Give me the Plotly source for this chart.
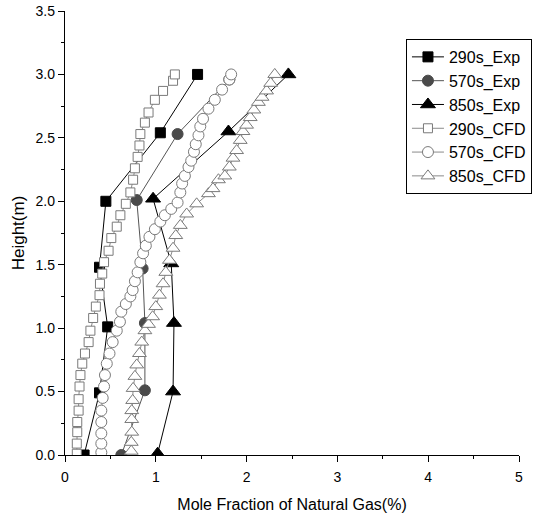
import plotly.graph_objects as go

# ---- Experimental data ----
h_exp_290 = [0.0, 0.49, 1.01, 1.48, 2.0, 2.54, 3.0]
x_exp_290 = [0.21, 0.38, 0.47, 0.38, 0.45, 1.05, 1.46]

h_exp_570 = [0.0, 0.51, 1.04, 1.47, 2.01, 2.53, 2.96]
x_exp_570 = [0.62, 0.88, 0.88, 0.855, 0.79, 1.24, 1.81]

h_exp_850 = [0.01, 0.50, 1.04, 1.51, 2.02, 2.55, 3.0]
x_exp_850 = [1.02, 1.19, 1.20, 1.17, 0.97, 1.80, 2.46]

# ---- CFD data ----
h_cfd_290 = [0.01, 0.09, 0.18, 0.26, 0.35, 0.44, 0.54, 0.63, 0.72, 0.80, 0.89, 0.98,
             1.08, 1.17, 1.26, 1.35, 1.43, 1.52, 1.61, 1.71, 1.80, 1.89, 1.98, 2.07,
             2.17, 2.26, 2.35, 2.44, 2.53, 2.62, 2.70, 2.80, 2.87, 2.95, 3.0]
x_cfd_290 = [0.13, 0.13, 0.135, 0.135, 0.15, 0.15, 0.16, 0.17, 0.19, 0.22, 0.26, 0.28,
             0.31, 0.34, 0.38, 0.385, 0.41, 0.43, 0.48, 0.51, 0.57, 0.61, 0.67, 0.72,
             0.75, 0.77, 0.80, 0.82, 0.83, 0.88, 0.92, 0.99, 1.08, 1.19, 1.21]

h_cfd_570 = [0.02, 0.09, 0.17, 0.26, 0.35, 0.45, 0.54, 0.63, 0.72, 0.80, 0.89, 0.98,
             1.05, 1.13, 1.19, 1.25, 1.30, 1.37, 1.44, 1.52, 1.59, 1.65, 1.72, 1.78,
             1.84, 1.89, 1.94, 1.99, 2.07, 2.14, 2.20, 2.27, 2.32, 2.39, 2.45, 2.52,
             2.59, 2.65, 2.73, 2.80, 2.88, 2.96, 3.0]
x_cfd_570 = [0.40, 0.40, 0.40, 0.40, 0.40, 0.415, 0.43, 0.44, 0.46, 0.49, 0.525, 0.57,
             0.605, 0.62, 0.67, 0.72, 0.745, 0.77, 0.80, 0.83, 0.86, 0.89, 0.93, 0.99,
             1.05, 1.10, 1.17, 1.24, 1.27, 1.29, 1.32, 1.36, 1.39, 1.42, 1.44, 1.47,
             1.49, 1.52, 1.58, 1.65, 1.73, 1.81, 1.83]

h_cfd_850 = [0.03, 0.10, 0.18, 0.28, 0.35, 0.43, 0.525, 0.62, 0.71, 0.80, 0.89, 0.98,
             1.03, 1.09, 1.17, 1.26, 1.35, 1.44, 1.535, 1.63, 1.73, 1.81, 1.90, 1.98,
             2.06, 2.10, 2.17, 2.20, 2.27, 2.34, 2.40, 2.48, 2.55, 2.60, 2.66, 2.72,
             2.78, 2.82, 2.87, 2.93, 3.0]
x_cfd_850 = [0.73, 0.73, 0.735, 0.735, 0.735, 0.745, 0.75, 0.77, 0.79, 0.82, 0.845, 0.88,
             0.92, 0.965, 1.00, 1.04, 1.08, 1.11, 1.15, 1.19, 1.22, 1.27, 1.34, 1.45,
             1.58, 1.63, 1.69, 1.76, 1.81, 1.85, 1.89, 1.93, 1.96, 2.00, 2.04, 2.08,
             2.13, 2.17, 2.22, 2.265, 2.31]

x_ticks = [0, 1, 2, 3, 4, 5]
y_ticks = [0.0, 0.5, 1.0, 1.5, 2.0, 2.5, 3.0, 3.5]
y_tick_labels = ["0.0", "0.5", "1.0", "1.5", "2.0", "2.5", "3.0", "3.5"]

FONT = "Liberation Sans, Arial, sans-serif"

fig = go.Figure()

exp_series = [
    ("290s_Exp", x_exp_290, h_exp_290, "square", "#000000", "#000000", 10),
    ("570s_Exp", x_exp_570, h_exp_570, "circle", "#4a4a4a", "#555555", 11),
    ("850s_Exp", x_exp_850, h_exp_850, "triangle-up", "#000000", "#000000", 13),
]
for name, xs, ys, sym, col, lcol, sz in exp_series:
    fig.add_trace(go.Scatter(
        x=xs, y=ys, name=name, mode="lines+markers",
        line=dict(color=lcol, width=1),
        marker=dict(symbol=sym, size=sz, color=col, line=dict(color=col, width=1)),
    ))

cfd_series = [
    ("290s_CFD", x_cfd_290, h_cfd_290, "square", 9),
    ("570s_CFD", x_cfd_570, h_cfd_570, "circle", 11),
    ("850s_CFD", x_cfd_850, h_cfd_850, "triangle-up", 12),
]
for name, xs, ys, sym, sz in cfd_series:
    fig.add_trace(go.Scatter(
        x=xs, y=ys, name=name, mode="lines+markers",
        line=dict(color="#8a8a8a", width=1),
        marker=dict(symbol=sym, size=sz, color="#ffffff",
                    line=dict(color="#7a7a7a", width=1)),
    ))

axis_common = dict(
    showline=True, linecolor="black", linewidth=1.4, mirror=False,
    ticks="outside", ticklen=6, tickcolor="black", tickwidth=1,
    showgrid=False, zeroline=False, automargin=False,
    tickfont=dict(family=FONT, size=14, color="black"),
)

fig.update_layout(
    width=535, height=526,
    margin=dict(l=65, r=16, t=11, b=71, autoexpand=False),
    paper_bgcolor="white", plot_bgcolor="white",
    font=dict(family=FONT, color="black"),
    xaxis=dict(
        range=[0, 5], tickvals=x_ticks, ticktext=[str(v) for v in x_ticks],
        minor=dict(tickvals=[0.5, 1.5, 2.5, 3.5, 4.5], ticks="outside", ticklen=3,
                   tickcolor="black"),
        ticklabelstandoff=3,
        title=dict(text="Mole Fraction of Natural Gas(%)",
                   font=dict(size=16, family=FONT), standoff=14),
        **axis_common,
    ),
    yaxis=dict(
        range=[0, 3.5], tickvals=y_ticks, ticktext=y_tick_labels,
        minor=dict(tickvals=[0.25, 0.75, 1.25, 1.75, 2.25, 2.75, 3.25], ticks="outside",
                   ticklen=3, tickcolor="black"),
        title=dict(text="Height(m)", font=dict(size=17, family=FONT), standoff=6),
        **axis_common,
    ),
    legend=dict(
        x=0.751, y=0.937, xanchor="left", yanchor="top",
        bordercolor="black", borderwidth=1, bgcolor="white",
        font=dict(size=16, family=FONT),
        itemwidth=32, tracegroupgap=0,
    ),
    showlegend=True,
)

fig.write_html("out.html")
